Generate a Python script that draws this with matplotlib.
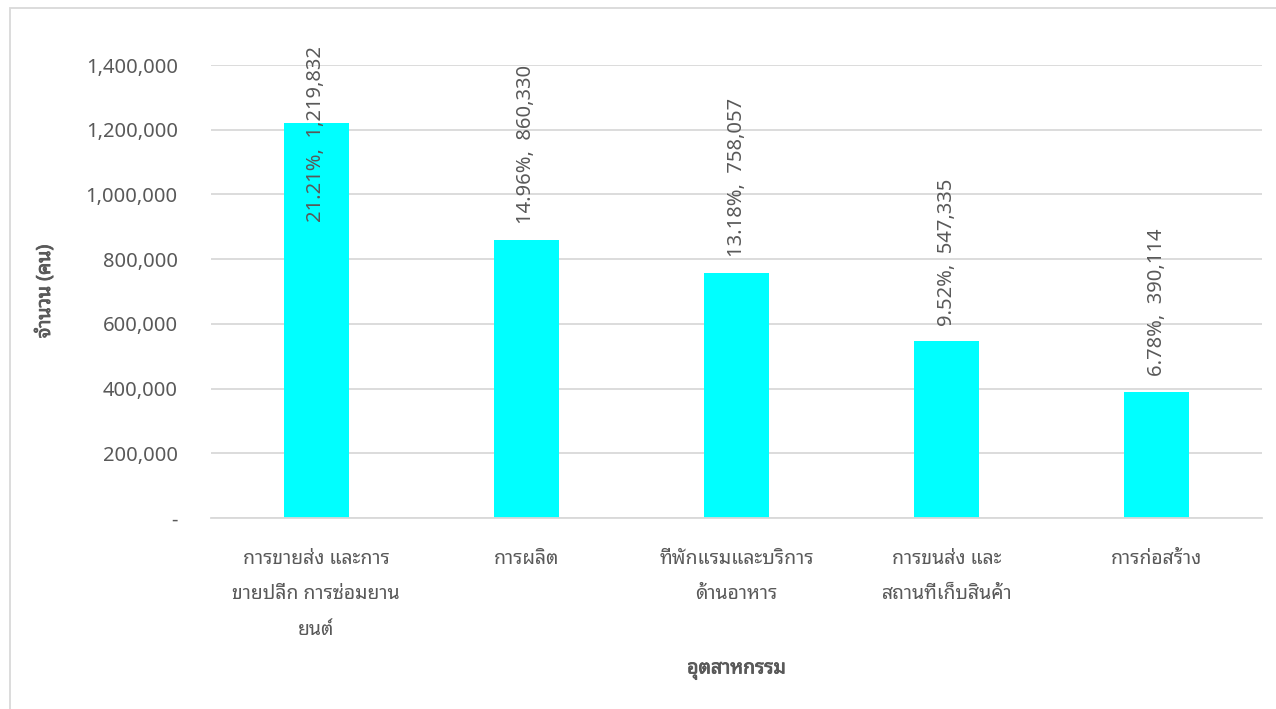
import matplotlib
matplotlib.use('Agg')
import matplotlib.pyplot as plt
import matplotlib.patheffects as pe
from matplotlib import font_manager
from matplotlib.ticker import FuncFormatter
from matplotlib.patches import Rectangle

# data
categories = ['การขายส่ง และการ\nขายปลีก การซ่อมยาน\nยนต์',
              'การผลิต',
              'ที่พักแรมและบริการ\nด้านอาหาร',
              'การขนส่ง และ\nสถานที่เก็บสินค้า',
              'การก่อสร้าง']
values = [1219832, 860330, 758057, 547335, 390114]
shares = ['21.21%', '14.96%', '13.18%', '9.52%', '6.78%']
yticks = [0, 200000, 400000, 600000, 800000, 1000000, 1200000, 1400000]


def find_thai_font():
    # look for an installed font that has Thai glyphs
    try:
        from fontTools.ttLib import TTFont
    except ImportError:
        return None
    found = []
    for fe in font_manager.fontManager.ttflist:
        try:
            f = TTFont(fe.fname, fontNumber=0, lazy=True)
            cmap = f.getBestCmap()
            if cmap and 0x0E01 in cmap and 0x0E48 in cmap:
                found.append(fe.name)
        except Exception:
            continue
    if not found:
        return None
    for pref in ['Tahoma', 'Leelawadee', 'Noto Sans Thai', 'Sarabun', 'Loma', 'Garuda']:
        for n in found:
            if pref.lower() in n.lower():
                return n
    return found[0]


thai = find_thai_font()
families = ([thai] if thai else []) + ['DejaVu Sans']
plt.rcParams['font.family'] = families

grey = '#595959'
gridc = '#d9d9d9'
fake_bold = [pe.withStroke(linewidth=0.6, foreground=grey)]

fig = plt.figure(figsize=(12.76, 7.09), dpi=100)
ax = fig.add_axes([0.1654, 0.2694, 0.8236, 0.6389])

x = list(range(len(values)))
ax.bar(x, values, width=0.31, color='#00ffff', zorder=2)

ax.set_ylim(0, 1400000)
ax.set_xlim(-0.5, len(values) - 0.5)
ax.set_yticks(yticks)
ax.yaxis.set_major_formatter(FuncFormatter(lambda v, p: '-' if v == 0 else f'{int(v):,}'))
ax.grid(axis='y', color=gridc, linewidth=1.3, zorder=0)
ax.set_axisbelow(True)
for s in ['top', 'right', 'left']:
    ax.spines[s].set_visible(False)
ax.spines['bottom'].set_color(gridc)
ax.spines['bottom'].set_linewidth(1.3)
ax.tick_params(length=0, colors=grey)
ax.tick_params(axis='y', pad=24, labelsize=14.5)
ax.tick_params(axis='x', pad=22, labelsize=14)
ax.set_xticks(x)
ax.set_xticklabels(categories, linespacing=2.05)

for i, (v, s) in enumerate(zip(values, shares)):
    txt = f'{s},  {v:,}'
    if v > 0.8 * 1400000:
        # too tall: label sits inside the bar end
        ax.annotate(txt, (i, v), xytext=(0, -71), textcoords='offset points',
                    rotation=90, ha='center', va='bottom', color=grey, fontsize=14.5)
    else:
        ax.annotate(txt, (i, v), xytext=(0, 11), textcoords='offset points',
                    rotation=90, ha='center', va='bottom', color=grey, fontsize=14.5)

ax.set_ylabel('จำนวน (คน)', fontsize=14, color=grey, labelpad=22,
              path_effects=fake_bold)
ax.set_xlabel('อุตสาหกรรม', fontsize=14, color=grey, labelpad=14,
              path_effects=fake_bold)

# chart border
fig.patches.append(Rectangle((10 / 1276, -0.05), 1.2, 1 - 8 / 709 + 0.05,
                             transform=fig.transFigure, fill=False,
                             edgecolor=gridc, linewidth=1.3))

fig.savefig('out.png', dpi=100)
